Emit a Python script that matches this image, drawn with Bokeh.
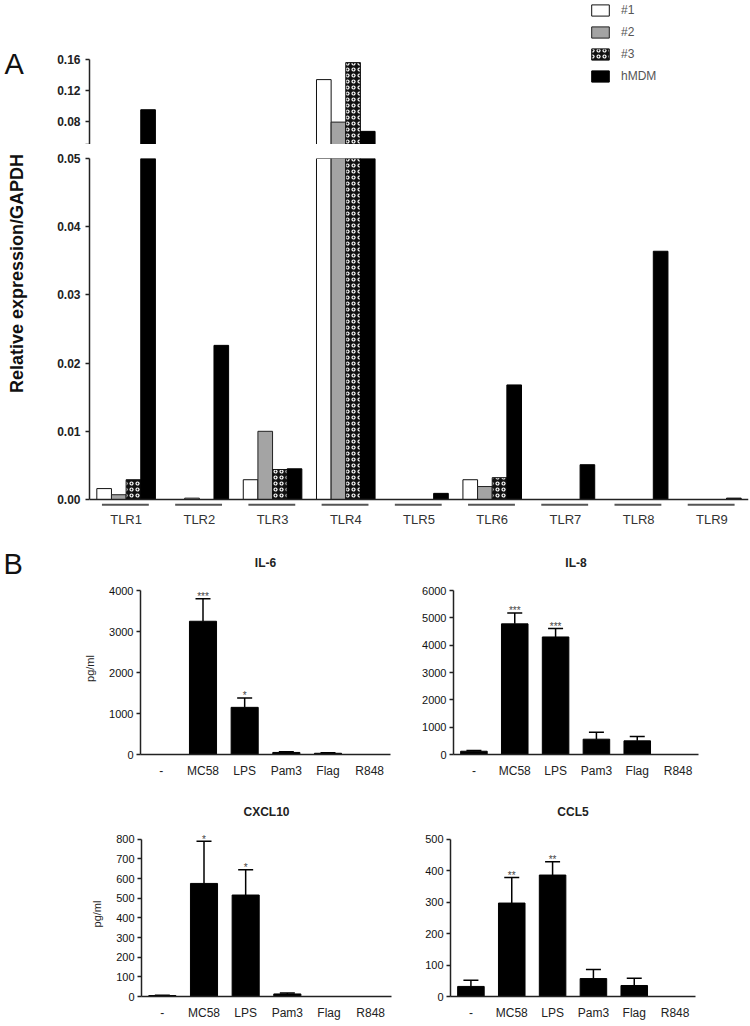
import math
from bokeh.plotting import figure
from bokeh.models import (FactorRange, Range1d, Span, FixedTicker,
                          ColumnDataSource, NumeralTickFormatter)
from bokeh.layouts import column, row
from bokeh.transform import dodge
from bokeh.core.properties import value
from bokeh.embed import file_html
from bokeh.resources import INLINE

FONT = "Liberation Sans"

# ---------------- Panel A data ----------------
tlr = ["TLR1", "TLR2", "TLR3", "TLR4", "TLR5", "TLR6", "TLR7", "TLR8", "TLR9"]
donor1 = [0.0016, 0.0, 0.0029, 0.134, 0.0, 0.0029, 0.0, 0.0, 0.0]
donor2 = [0.0007, 0.0002, 0.0100, 0.079, 0.0, 0.0019, 0.0, 0.0, 0.0]
donor3 = [0.0029, 0.0, 0.0044, 0.156, 0.0, 0.0032, 0.0, 0.0, 0.0]
hmdm = [0.095, 0.0226, 0.0045, 0.067, 0.0009, 0.0168, 0.0051, 0.0364, 0.0002]
series_names = ["#1", "#2", "#3", "hMDM"]
upper_ticks = [0.05, 0.08, 0.12, 0.16]
lower_ticks = [0.0, 0.01, 0.02, 0.03, 0.04, 0.05]

# ---------------- Panel B data ----------------
stimuli = ["-", "MC58", "LPS", "Pam3", "Flag", "R848"]
il6 = [0, 3250, 1150, 50, 30, 0]
il6_err = [0, 3800, 1380, 70, 40, 0]
il6_sig = ["", "***", "*", "", "", ""]
il8 = [120, 4780, 4300, 560, 500, 0]
il8_err = [150, 5180, 4610, 810, 660, 0]
il8_sig = ["", "***", "***", "", "", ""]
cxcl10 = [5, 575, 516, 13, 0, 0]
cxcl10_err = [6, 790, 644, 18, 0, 0]
cxcl10_sig = ["", "*", "*", "", "", ""]
ccl5 = [32, 297, 386, 57, 35, 0]
ccl5_err = [52, 378, 428, 86, 58, 0]
ccl5_sig = ["", "**", "**", "", "", ""]

src = ColumnDataSource(dict(tlr=tlr, d1=donor1, d2=donor2, d3=donor3, hm=hmdm))
cols = ["d1", "d2", "d3", "hm"]
offsets = [-0.3, -0.1, 0.1, 0.3]
styles = [
    dict(fill_color="white", line_color="#111"),
    dict(fill_color="#a4a4a4", line_color="#222"),
    dict(fill_color="#111111", line_color="#111", hatch_pattern="ring",
         hatch_color="white", hatch_scale=6, hatch_weight=1.2),
    dict(fill_color="black", line_color="black"),
]

xr = FactorRange(factors=tlr, range_padding=0)


def style_yaxis(ax, size="12px", bold=True):
    ax.axis_line_color = "#222"
    ax.axis_line_width = 1.5
    ax.major_tick_line_color = "#222"
    ax.major_tick_line_width = 1.5
    ax.major_tick_out = 4
    ax.major_tick_in = 0
    ax.minor_tick_line_color = None
    ax.major_label_text_font = FONT
    ax.major_label_text_font_size = size
    ax.major_label_text_font_style = "bold" if bold else "normal"
    ax.major_label_text_color = "#222"
    ax.major_label_standoff = 5


# left strip holding the panel letters and the y-axis title of panel A
STRIP_H = 1022
la = figure(width=50, height=STRIP_H, title=None, x_range=Range1d(0, 50),
            y_range=Range1d(STRIP_H, 0), x_axis_type=None, y_axis_type=None,
            output_backend="svg", toolbar_location=None,
            min_border_left=0, min_border_right=0, min_border_top=0,
            min_border_bottom=0, outline_line_color=None)
la.grid.visible = False
la.text(x=[4, 3], y=[47, 547], text=["A", "B"], text_font=value(FONT),
        text_font_size="29px", text_align="left", text_baseline="top",
        text_color="#111")
la.text(x=[16], y=[273], text=["Relative expression/GAPDH"], angle=math.pi / 2,
        text_font=value(FONT), text_font_size="18px", text_font_style="bold",
        text_align="center", text_baseline="middle", text_color="#111")

# upper segment of the broken axis
p1 = figure(width=700, height=144, x_range=xr, y_range=Range1d(0.05, 0.2364),
            output_backend="svg", toolbar_location=None,
            min_border_left=39, min_border_right=2, min_border_top=0,
            min_border_bottom=0, outline_line_color=None)
p1.xaxis.visible = False
p1.grid.visible = False
for c, off, st, nm in zip(cols, offsets, styles, series_names):
    p1.vbar(x=dodge("tlr", off, range=xr), top=c, width=0.2, source=src,
            line_width=1, legend_label=nm, **st)
style_yaxis(p1.yaxis[0])
p1.yaxis.ticker = FixedTicker(ticks=upper_ticks)
p1.yaxis.formatter = NumeralTickFormatter(format="0.00")
p1.yaxis.major_label_overrides = {0.05: ""}
p1.yaxis.bounds = (0.05, 0.16)
lg = p1.legend[0]
lg.location = (500, 61)
lg.padding = 0
lg.margin = 0
lg.spacing = 8
lg.glyph_width = 22
lg.glyph_height = 14
lg.label_height = 14
lg.label_standoff = 10
lg.label_text_font = FONT
lg.label_text_font_size = "12px"
lg.label_text_color = "#555"
lg.border_line_color = None
lg.background_fill_alpha = 0

# lower segment
ystart = -0.05 * 8 / 341
p2 = figure(width=700, height=394, x_range=xr, y_range=Range1d(ystart, 0.05),
            output_backend="svg", toolbar_location=None,
            min_border_left=39, min_border_right=2, min_border_top=14,
            min_border_bottom=31, outline_line_color=None)
p2.grid.visible = False
for c, off, st in zip(cols, offsets, styles):
    p2.vbar(x=dodge("tlr", off, range=xr), top=c, width=0.2, source=src,
            line_width=1, **st)
p2.add_layout(Span(location=0, dimension="width", line_color="#222", line_width=1.5))
ul_y = ystart * 0.65
p2.segment(x0=dodge("tlr", -0.33, range=xr), x1=dodge("tlr", 0.31, range=xr),
           y0=ul_y, y1=ul_y, source=src, line_color="#555", line_width=2)
style_yaxis(p2.yaxis[0])
p2.yaxis.ticker = FixedTicker(ticks=lower_ticks)
p2.yaxis.formatter = NumeralTickFormatter(format="0.00")
p2.yaxis.bounds = (0, 0.05)
xa = p2.xaxis[0]
xa.axis_line_color = None
xa.major_tick_line_color = None
xa.major_tick_out = 0
xa.minor_tick_line_color = None
xa.major_label_text_font = FONT
xa.major_label_text_font_size = "13px"
xa.major_label_text_color = "#333"
xa.major_label_standoff = 4


def panel_b(title, vals, errs, sig, ymax, step, width, left, right, top, bottom,
            ylabel=None):
    height = top + 172 + bottom
    p = figure(width=width, height=height,
               x_range=FactorRange(factors=stimuli, range_padding=0),
               y_range=Range1d(0, ymax * 172 / 164),
               output_backend="svg", toolbar_location=None,
               min_border_left=left, min_border_right=right,
               min_border_top=top, min_border_bottom=bottom,
               outline_line_color=None)
    p.grid.visible = False
    s = ColumnDataSource(dict(cat=stimuli, val=vals, err=errs, sig=sig))
    p.vbar(x="cat", top="val", width=0.65, source=s, fill_color="black",
           line_color="black")
    has_err = [i for i in range(len(stimuli)) if errs[i] > vals[i]]
    e = ColumnDataSource(dict(cat=[stimuli[i] for i in has_err],
                              val=[vals[i] for i in has_err],
                              err=[errs[i] for i in has_err],
                              sig=[sig[i] for i in has_err]))
    p.segment(x0="cat", y0="val", x1="cat", y1="err", source=e,
              line_color="black", line_width=1.5)
    p.scatter(x="cat", y="err", marker="dash", size=15, source=e,
              line_color="black", line_width=1.5)
    p.text(x="cat", y="err", text="sig", source=e, text_align="center",
           text_baseline="middle", y_offset=-2, text_font=value(FONT),
           text_font_size="10px", text_color="#444")
    ay = p.yaxis[0]
    style_yaxis(ay, size="11px", bold=False)
    ay.major_label_text_color = "#111"
    ay.major_tick_out = 4
    ay.major_label_standoff = 3
    ay.ticker = FixedTicker(ticks=list(range(0, ymax + 1, step)))
    ay.bounds = (0, ymax)
    if ylabel:
        ay.axis_label = ylabel
        ay.axis_label_text_font = FONT
        ay.axis_label_text_font_size = "11px"
        ay.axis_label_text_font_style = "normal"
        ay.axis_label_text_color = "#222"
        ay.axis_label_standoff = 10
    ax = p.xaxis[0]
    ax.axis_line_color = "#222"
    ax.axis_line_width = 1.5
    ax.major_tick_line_color = None
    ax.major_tick_out = 0
    ax.minor_tick_line_color = None
    ax.major_label_text_font = FONT
    ax.major_label_text_font_size = "12px"
    ax.major_label_text_color = "#222"
    ax.major_label_standoff = 9
    p.title.text = title
    p.title.align = "center"
    p.title.text_font = FONT
    p.title.text_font_size = "12px"
    p.title.text_font_style = "bold"
    p.title.text_color = "#222"
    p.title.standoff = 26
    return p


p3 = panel_b("IL-6", il6, il6_err, il6_sig, 4000, 1000, 350, 90, 10, 44, 34, "pg/ml")
p4 = panel_b("IL-8", il8, il8_err, il8_sig, 6000, 1000, 350, 53, 52, 44, 34)
p5 = panel_b("CXCL10", cxcl10, cxcl10_err, cxcl10_sig, 800, 100, 350, 91, 9, 43, 19, "pg/ml")
p6 = panel_b("CCL5", ccl5, ccl5_err, ccl5_sig, 500, 100, 350, 50, 55, 43, 19)

layout = row(la, column(p1, p2, row(p3, p4), row(p5, p6)))
open("out.html", "w").write(file_html(layout, INLINE))
